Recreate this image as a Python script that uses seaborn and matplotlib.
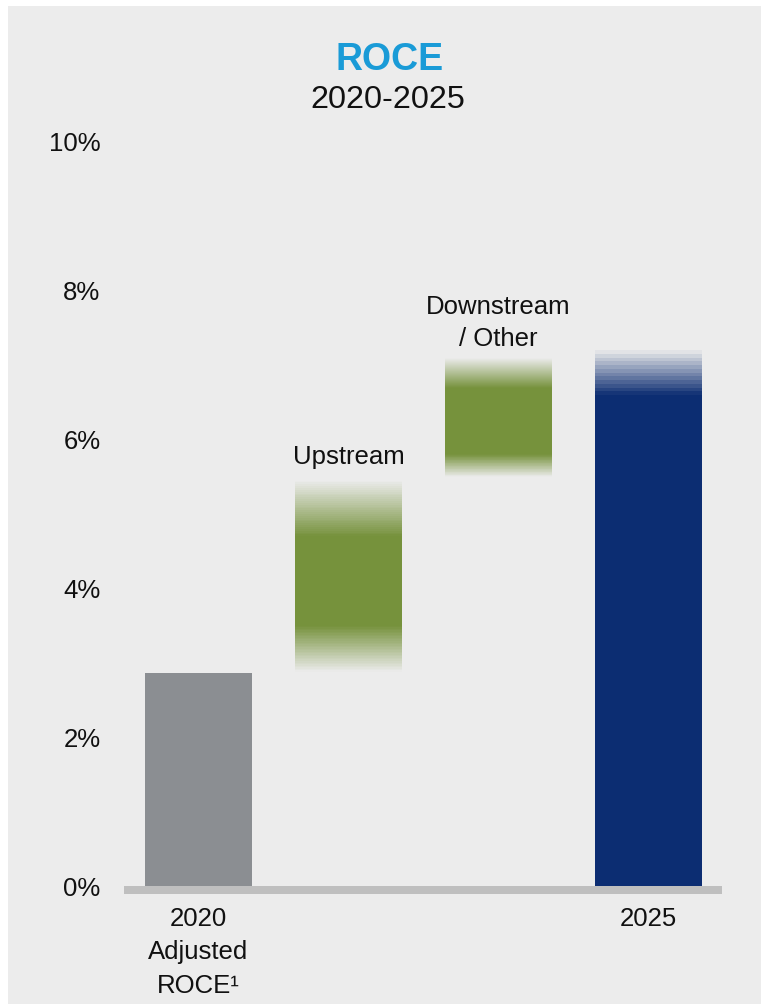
import numpy as np
import matplotlib
matplotlib.use("Agg")
import matplotlib.pyplot as plt
from matplotlib.patches import Rectangle
import seaborn as sns

# ---- data ----
keys = ["2020", "Upstream", "Downstream", "2025"]
tick_labels = ["2020\nAdjusted\nROCE\u00b9", "", "", "2025"]
bar_labels = ["", "Upstream", "Downstream\n/ Other", ""]
range_low = [0.0, 2.88, 5.5, 0.0]      # bottom of (faded) bar
range_high = [2.86, 5.45, 7.1, 7.2]    # top of (faded) bar
solid_low = [0.0, 3.5, 5.8, 0.0]       # solid section bottom
solid_high = [2.86, 4.7, 6.7, 6.6]     # solid section top
bar_colors = ["#8b8e92", "#76923c", "#76923c", "#0c2d72"]
fade_steps = [0, 30, 30, 12]
y_ticks = [0, 2, 4, 6, 8, 10]

# styles
label_offsets = [0, 8, 5, 0]

sns.set_style("white")
plt.rcParams["font.family"] = ["Liberation Sans", "DejaVu Sans"]

W, H = 761, 1005
fig = plt.figure(figsize=(W / 100, H / 100), dpi=100)
fig.patch.set_facecolor("white")
fig.patches.append(Rectangle((8 / W, 1 / H), 1 - 8 / W, 998 / H,
                             transform=fig.transFigure, facecolor="#ececec",
                             edgecolor="none", zorder=-10))

ax = fig.add_axes([124 / W, 119 / H, (722 - 124) / W, (886 - 142) / H])
ax.set_facecolor("none")

width = 0.713
solid_heights = [h - l for h, l in zip(solid_high, solid_low)]

# base solid parts through seaborn (categorical scale)
sns.barplot(x=keys, y=[solid_high[0], 0, 0, solid_high[3]], hue=keys,
            palette=bar_colors, width=width, legend=False, ax=ax,
            saturation=1, linewidth=0)

for i in range(len(keys)):
    if solid_low[i] > 0:
        ax.bar(i, solid_heights[i], bottom=solid_low[i], width=width,
               color=bar_colors[i], linewidth=0)
    n = fade_steps[i]
    if n:
        edges = np.linspace(solid_high[i], range_high[i], n + 1)
        for k in range(n):
            a = 1 - (k + 0.5) / n
            ax.bar(i, edges[k + 1] - edges[k], bottom=edges[k], width=width,
                   color=bar_colors[i], alpha=a, linewidth=0)
        if range_low[i] < solid_low[i]:
            edges = np.linspace(solid_low[i], range_low[i], n + 1)
            for k in range(n):
                a = 1 - (k + 0.5) / n
                ax.bar(i, edges[k] - edges[k + 1], bottom=edges[k + 1], width=width,
                       color=bar_colors[i], alpha=a, linewidth=0)
    if bar_labels[i]:
        ax.annotate(bar_labels[i], (i, range_high[i]), xytext=(0, label_offsets[i]),
                    textcoords="offset points", ha="center", va="bottom",
                    fontsize=18.5, color="#111111", multialignment="center",
                    linespacing=1.4)

# spines first (set_position resets ticks)
for s in ["top", "right", "left"]:
    ax.spines[s].set_visible(False)
ax.spines["bottom"].set_position(("outward", 2.9))
ax.spines["bottom"].set_color("#bfbfbf")
ax.spines["bottom"].set_linewidth(5.76)
ax.spines["bottom"].set_capstyle("butt")
ax.spines["bottom"].set_zorder(0)

ax.set_xlim(-0.497, 3.49)
ax.set_ylim(0, 10)
ax.set_yticks(y_ticks)
ax.set_yticklabels([f"{v}%" for v in y_ticks])
ax.set_xticks(range(len(keys)))
ax.tick_params(axis="y", length=0, pad=17, labelsize=18.5, labelcolor="#111111")
ax.tick_params(axis="x", length=0, pad=12, labelsize=18.5, labelcolor="#111111")
ax.set_xticklabels(tick_labels)
for t in ax.get_xticklabels():
    t.set_linespacing(1.5)
ax.set_xlabel("")
ax.set_ylabel("")

fig.text(389.5 / W, 1 - 60 / H, "ROCE", fontsize=27, fontweight="bold",
         color="#1a9bd7", ha="center", va="center")
fig.text(387.5 / W, 1 - 100 / H, "2020-2025", fontsize=23.3,
         color="#111111", ha="center", va="center")

fig.savefig("out.png", dpi=100, facecolor=fig.get_facecolor())
